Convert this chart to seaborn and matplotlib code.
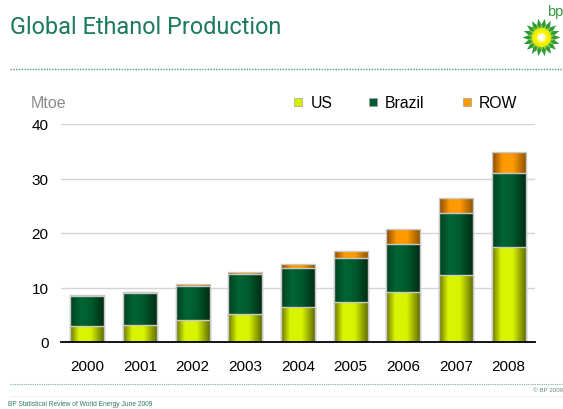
import numpy as np
import pandas as pd
import matplotlib
matplotlib.use("Agg")
import matplotlib.pyplot as plt
import seaborn as sns
from matplotlib.colors import LinearSegmentedColormap
from matplotlib.patches import Rectangle, Polygon
from matplotlib.lines import Line2D

years = ["2000", "2001", "2002", "2003", "2004", "2005", "2006", "2007", "2008"]
us = [3.0, 3.2, 4.0, 5.2, 6.35, 7.3, 9.2, 12.3, 17.5]
brazil = [5.4, 5.7, 6.3, 7.2, 7.3, 8.1, 8.8, 11.3, 13.6]
row = [0.2, 0.3, 0.3, 0.5, 0.65, 1.3, 2.7, 2.9, 3.8]
series_names = ["US", "Brazil", "ROW"]
yticks = [0, 10, 20, 30, 40]

sns.set_theme(style="white")
plt.rcParams["font.family"] = ["Liberation Sans", "DejaVu Sans"]

W, H = 563, 410
fig = plt.figure(figsize=(W / 100, H / 100), dpi=100)
fig.patch.set_facecolor("white")

def fx(px):
    return px / W

def fy(py):
    return 1 - py / H

ax = fig.add_axes([fx(61), fy(343), fx(535) - fx(61), fy(125) - fy(343)])

df = pd.DataFrame({"year": years, "US": us, "Brazil": brazil, "ROW": row})
df["lvl_us"] = df["US"]
df["lvl_br"] = df["US"] + df["Brazil"]
df["lvl_row"] = df["US"] + df["Brazil"] + df["ROW"]

flat = {"US": "#d4f000", "Brazil": "#005c2e", "ROW": "#ff9900"}
cmaps = {
    "US": LinearSegmentedColormap.from_list("us", [(0, "#6a7400"), (0.25, "#d8f400"), (0.6, "#d8f400"), (1, "#5c6600")]),
    "Brazil": LinearSegmentedColormap.from_list("br", [(0, "#00401f"), (0.3, "#006633"), (0.6, "#005a2c"), (1, "#002a12")]),
    "ROW": LinearSegmentedColormap.from_list("row", [(0, "#8a4a00"), (0.3, "#ff9900"), (0.6, "#ff9a00"), (1, "#8a5200")]),
}

grad = np.linspace(0, 1, 64).reshape(1, -1)
layers = [("ROW", "lvl_row", 1), ("Brazil", "lvl_br", 2), ("US", "lvl_us", 3)]
for name, col, z in layers:
    n0 = len(ax.patches)
    sns.barplot(data=df, x="year", y=col, color=flat[name], saturation=1,
                width=0.65, errorbar=None, ax=ax)
    for p in ax.patches[n0:]:
        x0, y0 = p.get_x(), p.get_y()
        w, h = p.get_width(), p.get_height()
        im = ax.imshow(grad, cmap=cmaps[name], aspect="auto",
                       extent=[x0, x0 + w, y0, y0 + h], zorder=z + 0.1,
                       interpolation="bilinear")
        im.set_clip_path(p)
        p.set_facecolor("none")
        p.set_edgecolor("#c8c8c8")
        p.set_linewidth(1.0)
        p.set_zorder(z + 0.2)

ax.set_xlim(-0.5, 8.5)
ax.set_ylim(0, 40)
ax.set_yticks(yticks)
ax.set_yticklabels([str(t) for t in yticks])
ax.set_xlabel("")
ax.set_ylabel("")
ax.grid(axis="y", color="#d4d4d4", linewidth=1.0)
ax.grid(axis="x", visible=False)
ax.set_axisbelow(True)
for s in ["left", "right", "top"]:
    ax.spines[s].set_visible(False)
ax.spines["bottom"].set_color("black")
ax.spines["bottom"].set_linewidth(1.3)
ax.spines["bottom"].set_zorder(10)
ax.tick_params(axis="x", length=0, pad=12, labelsize=11, labelcolor="black")
ax.tick_params(axis="y", length=0, pad=9, labelsize=11, labelcolor="black")
ax.set_facecolor("white")

# title and header
fig.text(fx(10), fy(28), "Global Ethanol Production", fontsize=16.9, color="#1b7b5a",
         ha="left", va="center", family=["Roboto", "DejaVu Sans"])
fig.add_artist(Line2D([fx(10), fx(563)], [fy(69.5), fy(69.5)], color="#4f9a84",
                      linewidth=1.0, linestyle=(0, (1, 1))))

# Mtoe label
fig.text(fx(31), fy(103), "Mtoe", fontsize=11.5, color="#8c8c8c", ha="left", va="center")

# legend
leg_pos = [(294, 311), (369, 385), (463, 479)]
for name, (sx, tx) in zip(series_names, leg_pos):
    fig.add_artist(Rectangle((fx(sx), fy(107)), fx(8), fy(99) - fy(107),
                             facecolor=flat[name], edgecolor="#a0a0a0", linewidth=0.5))
    fig.text(fx(tx), fy(103), name, fontsize=11.3, color="black", ha="left", va="center")

# BP logo (approximate)
cx, cy = 541.5, 38.5
def star(r_out, r_in, n, rot=0):
    pts = []
    for i in range(2 * n):
        r = r_out if i % 2 == 0 else r_in
        a = np.pi * i / n + rot
        pts.append((fx(cx + r * np.cos(a)), fy(cy + r * np.sin(a))))
    return pts
fig.add_artist(Polygon(star(19, 13, 18), closed=True, facecolor="#2e9a3a", edgecolor="none"))
fig.add_artist(Polygon(star(14, 9.5, 18, np.pi / 18), closed=True, facecolor="#8cc63f", edgecolor="none"))
for r, c in [(9.5, "#e8ee00"), (7, "#fff200"), (4.5, "#fffbb0"), (2.5, "white")]:
    pts = [(fx(cx + r * np.cos(a)), fy(cy + r * np.sin(a))) for a in np.linspace(0, 2 * np.pi, 60)]
    fig.add_artist(Polygon(pts, closed=True, facecolor=c, edgecolor="none"))
fig.text(fx(547), fy(12), "bp", fontsize=10.5, color="#2e9a3a", ha="left", va="center")

# footer
fig.add_artist(Line2D([fx(10), fx(563)], [fy(384.5), fy(384.5)], color="#7ab0a0",
                      linewidth=0.8, linestyle=(0, (1, 1))))
fig.add_artist(Line2D([fx(10), fx(563)], [fy(396.5), fy(396.5)], color="#d8e4e0",
                      linewidth=0.6, linestyle=(0, (1, 1))))
fig.text(fx(563), fy(391), "© BP 2009", fontsize=4.5, color="#6a8a80", ha="right", va="center")
fig.text(fx(8), fy(405), "BP Statistical Review of World Energy June 2009", fontsize=4.8,
         color="#2f7a66", ha="left", va="center")

fig.savefig("out.png", dpi=100, facecolor="white")
